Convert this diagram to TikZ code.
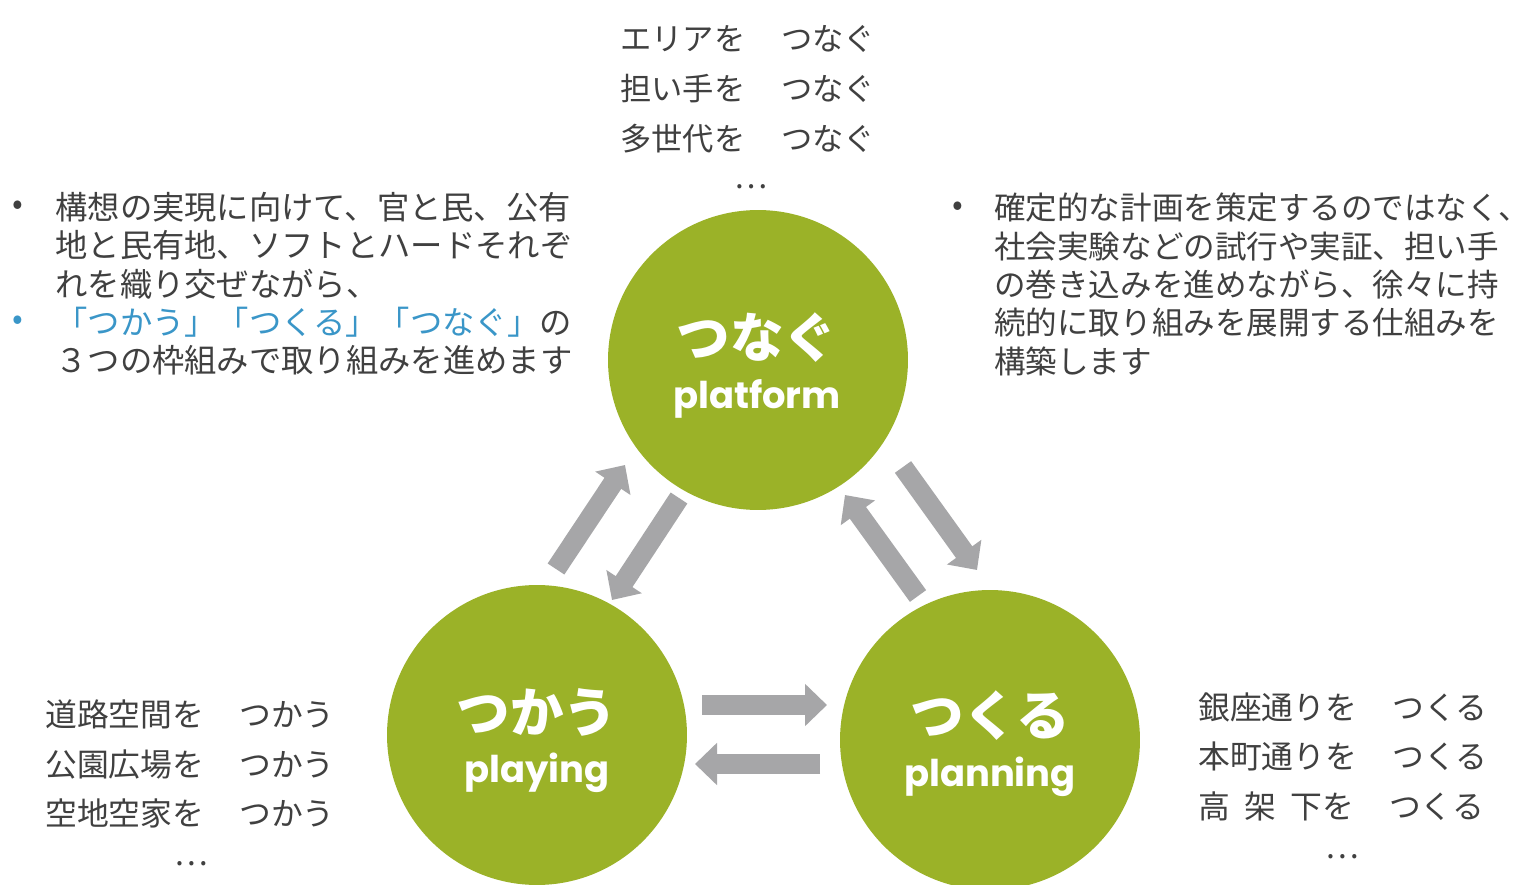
\documentclass[tikz,border=0pt]{standalone}
\usepackage{fontspec}
\usetikzlibrary{arrows.meta}
\newfontfamily\jp{Noto Sans CJK JP}
\newfontfamily\pop{Poppins}
\definecolor{olive}{RGB}{155,178,40}
\definecolor{garr}{RGB}{166,166,168}
\definecolor{txt}{RGB}{64,64,64}
\definecolor{blu}{RGB}{58,150,200}
\begin{document}
\begin{tikzpicture}[x=0.02cm,y=-0.02cm,
  disc/.style={circle,fill=olive,minimum size=6cm,inner sep=0},
  garrow/.style={draw=garr,line width=0.4cm,-{Triangle[width=0.82cm,length=0.44cm]}},
  body/.style={inner sep=0,anchor=north west,align=left,text=txt,font=\jp\fontsize{18.4}{21.8}\selectfont},
  list/.style={inner sep=0,anchor=north west,align=left,text=txt,font=\jp\fontsize{17.8}{28.4}\selectfont},
  bul/.style={inner sep=0,text=txt,font=\jp\fontsize{18}{21.8}\selectfont},
  bigj/.style={text=white,font=\jp\bfseries\fontsize{30.5}{32}\selectfont,inner sep=0},
  bigl/.style={text=white,font=\pop\bfseries\fontsize{21}{24}\selectfont,inner sep=0}]
\clip (0,0) rectangle (1535,885);
\fill[white] (0,0) rectangle (1535,885);
% circles
\node[disc] (tsunagu) at (758,360) {};
\node[disc] (tsukau) at (537,735) {};
\node[disc] (tsukuru) at (990,740) {};
\node[bigj] (tsunaguJ) at (757,338) {つなぐ};
\node[bigl] (tsunaguL) at (757,399) {platform};
\node[bigj] (tsukauJ) at (537,712) {つかう};
\node[bigl] (tsukauL) at (537,773) {playing};
\node[bigj] (tsukuruJ) at (990,716) {つくる};
\node[bigl] (tsukuruL) at (990,777) {planning};
% arrows
\coordinate (a1s) at (556,569); \coordinate (a1e) at (625,465);
\coordinate (a2s) at (679,498); \coordinate (a2e) at (612,600);
\coordinate (a3s) at (918,596); \coordinate (a3e) at (845,495);
\coordinate (a4s) at (903,467); \coordinate (a4e) at (977,570);
\coordinate (a5s) at (702,705); \coordinate (a5e) at (827,705);
\coordinate (a6s) at (820,764); \coordinate (a6e) at (695,764);
\draw[garrow] (a1s) -- (a1e);
\draw[garrow] (a2s) -- (a2e);
\draw[garrow] (a3s) -- (a3e);
\draw[garrow] (a4s) -- (a4e);
\draw[garrow] (a5s) -- (a5e);
\draw[garrow] (a6s) -- (a6e);
% left bullets
\node[bul] (b1) at (18,208) {•};
\node[bul,text=blu] (b2) at (18,323) {•};
\node[body] (ltext) at (55,192) {構想の実現に向けて、官と民、公有\\地と民有地、ソフトとハードそれぞ\\れを織り交ぜながら、\\\textcolor{blu}{「つかう」「つくる」「つなぐ」}の\\３つの枠組みで取り組みを進めます};
% right bullet
\node[bul] (b3) at (958,209) {•};
\node[body,font=\jp\fontsize{17.95}{21.8}\selectfont] (rtext) at (994,193) {確定的な計画を策定するのではなく、\\社会実験などの試行や実証、担い手\\の巻き込みを進めながら、徐々に持\\続的に取り組みを展開する仕組みを\\構築します};
% lists
\node[list] (toplist) at (620,25) {エリアを\hspace{1.15em}つなぐ\\担い手を\hspace{1.15em}つなぐ\\多世代を\hspace{1.15em}つなぐ\\[-6.8pt]\hspace*{3.65em}…};
\node[list,font=\jp\fontsize{18.1}{28.4}\selectfont] (bllist) at (45,699) {道路空間を\hspace{1.1em}つかう\\公園広場を\hspace{1.1em}つかう\\空地空家を\hspace{1.1em}つかう\\[-5.7pt]\hspace*{4.05em}…};
\node[list,font=\jp\fontsize{18.1}{28.4}\selectfont] (brlist) at (1198,692) {銀座通りを\hspace{1.1em}つくる\\本町通りを\hspace{1.1em}つくる\\高\hspace{0.45em}架\hspace{0.45em}下を\hspace{1.1em}つくる\\[-5.7pt]\hspace*{4em}…};
\end{tikzpicture}
\end{document}
